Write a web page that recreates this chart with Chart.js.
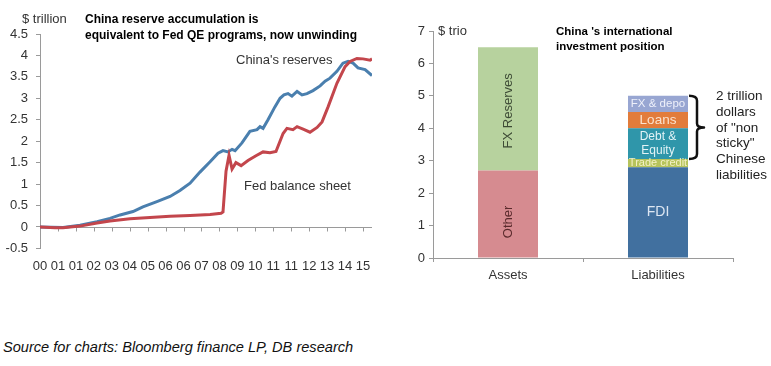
<!DOCTYPE html>
<html><head><meta charset="utf-8">
<script src="https://cdn.jsdelivr.net/npm/chart.js@4.4.1/dist/chart.umd.min.js"></script>
<style>
html,body{margin:0;padding:0;background:#fff;}
body{width:771px;height:366px;position:relative;overflow:hidden;font-family:"Liberation Sans",Arial,Helvetica,sans-serif;color:#222;}
.t{position:absolute;white-space:nowrap;}
#w1{position:absolute;left:0;top:0;width:390px;height:300px;}
#w2{position:absolute;left:390px;top:0;width:381px;height:300px;}
</style></head><body>
<div id="w1"><canvas id="c1" width="390" height="300"></canvas></div>
<div id="w2"><canvas id="c2" width="381" height="300"></canvas></div>

<div class="t" style="left:22px;top:11px;font-size:13px;line-height:16px;color:#333;">$ trillion</div>
<div class="t" style="left:85px;top:11px;font-size:12px;line-height:16px;font-weight:bold;color:#000;">China reserve accumulation is<br>equivalent to Fed QE programs, now unwinding</div>
<div class="t" style="left:236px;top:52px;font-size:13px;line-height:16px;color:#333;">China's reserves</div>
<div class="t" style="left:244px;top:178px;font-size:13px;line-height:16px;color:#333;">Fed balance sheet</div>

<div class="t" style="left:438px;top:23px;font-size:13px;line-height:16px;color:#333;">$ trio</div>
<div class="t" style="left:556px;top:24px;font-size:11.5px;line-height:15px;font-weight:bold;color:#000;">China 's international<br>investment position</div>
<div class="t" style="left:716px;top:88px;font-size:13.5px;line-height:15.8px;color:#222;">2 trillion<br>dollars<br>of "non<br>sticky"<br>Chinese<br>liabilities</div>

<div class="t" style="left:3px;top:338px;font-size:14.6px;line-height:18px;font-style:italic;color:#111;">Source for charts: Bloomberg finance LP, DB research</div>

<script>
// ---------- Left chart data ----------
const xTickLabels = ["00","01","01","02","03","04","05","06","06","07","08","09","10","11","11","12","13","14","15"];
const chinaDates = [2000.00,2001.07,2001.86,2002.65,2003.25,2003.72,2004.32,2004.78,2005.43,2006.04,2006.50,2006.97,2007.43,2007.90,2008.27,2008.50,2008.73,2008.92,2009.06,2009.38,2009.75,2010.08,2010.22,2010.36,2010.59,2010.91,2011.15,2011.33,2011.52,2011.70,2011.94,2012.17,2012.40,2012.68,2013.01,2013.24,2013.47,2013.79,2014.07,2014.31,2014.54,2014.77,2015.10,2015.42];
const chinaReserves = [0,-0.01,0.04,0.12,0.20,0.28,0.36,0.47,0.59,0.71,0.85,1.02,1.28,1.52,1.72,1.78,1.75,1.81,1.78,1.96,2.23,2.27,2.34,2.30,2.50,2.80,3.00,3.08,3.11,3.05,3.16,3.08,3.11,3.18,3.29,3.40,3.47,3.63,3.82,3.86,3.82,3.71,3.67,3.53];
const fedDates = [2000.00,2000.70,2001.07,2001.86,2002.65,2003.25,2004.18,2005.11,2006.04,2006.97,2007.90,2008.41,2008.50,2008.64,2008.78,2008.92,2009.10,2009.34,2009.66,2010.03,2010.36,2010.68,2010.96,2011.29,2011.47,2011.75,2011.94,2012.22,2012.54,2012.87,2013.10,2013.38,2013.79,2014.17,2014.40,2014.72,2015.00,2015.33,2015.42];
const fedBalance = [0,-0.02,-0.02,0.02,0.09,0.14,0.19,0.22,0.25,0.27,0.29,0.32,0.35,1.30,1.67,1.35,1.50,1.43,1.55,1.66,1.75,1.73,1.76,2.18,2.30,2.27,2.34,2.28,2.21,2.32,2.45,2.80,3.35,3.74,3.86,3.93,3.92,3.89,3.92];

// ---------- Right chart data ----------
const barCategories = ["Assets","Liabilities"];
const otherAssets  = [2.7, null];
const fxReserves   = [3.8, null];
const fdi          = [null, 2.8];
const tradeCredit  = [null, 0.25];
const debtEquity   = [null, 0.95];
const loans        = [null, 0.5];
const fxDepo       = [null, 0.5];

const F = "'Liberation Sans', Arial, sans-serif";
const AX = '#9a9a9a';

const zeroLine = {
  id:'zeroLine',
  beforeDatasetsDraw(chart){
    const {ctx, chartArea:a, scales:{x,y}} = chart;
    const y0 = Math.round(y.getPixelForValue(0)) + 0.5;
    ctx.save();
    ctx.strokeStyle = AX; ctx.lineWidth = 1;
    ctx.beginPath();
    ctx.moveTo(a.left, y0); ctx.lineTo(a.right, y0);
    x.ticks.forEach(t => {
      const px = Math.round(x.getPixelForValue(t.value)) + 0.5;
      ctx.moveTo(px, y0); ctx.lineTo(px, y0 + 4);
    });
    ctx.stroke();
    ctx.restore();
  }
};

new Chart(document.getElementById('c1'), {
  type:'line',
  data:{datasets:[
    {label:"China's reserves", data:chinaDates.map((d,i)=>({x:d,y:chinaReserves[i]})), borderColor:'#4a7fae', borderWidth:3, pointRadius:0, tension:0, order:1},
    {label:"Fed balance sheet", data:fedDates.map((d,i)=>({x:d,y:fedBalance[i]})), borderColor:'#c3464c', borderWidth:3, pointRadius:0, tension:0, order:0}
  ]},
  options:{
    responsive:false, animation:false, devicePixelRatio:1,
    layout:{padding:{top:34,right:18,left:0,bottom:0}},
    plugins:{legend:{display:false}, tooltip:{enabled:false}},
    scales:{
      x:{type:'linear', min:2000, max:2015.42,
        afterBuildTicks:s=>{ s.ticks = xTickLabels.map((_,i)=>({value:2000 + i*10/12})); },
        afterFit:s=>{ s.height = 51.6; },
        grid:{display:false, drawTicks:false}, border:{display:false},
        ticks:{autoSkip:false, maxRotation:0, minRotation:0, padding:10, color:'#333', font:{size:13, family:F}, callback:(v,i)=>xTickLabels[i]}
      },
      y:{min:-0.5, max:4.5,
        afterFit:s=>{ s.width = 40; },
        ticks:{stepSize:0.5, padding:8, color:'#333', font:{size:13, family:F}, callback:v=>String(Math.round(v*10)/10)},
        grid:{drawOnChartArea:false, drawTicks:true, tickLength:4, color:AX},
        border:{display:true, color:AX, width:1}
      }
    }
  },
  plugins:[zeroLine]
});

const segStyle = {
  'Other':        {color:'#5a2a2c', rotate:true, size:13, dy:8},
  'FX Reserves':  {color:'#3d4a35', rotate:true, size:13, dy:2},
  'FDI':          {color:'#dce6f2', size:14},
  'Trade credit': {color:'#f4f1c6', size:11},
  'Debt & Equity':{color:'#e2f3f6', size:12, lines:['Debt &','Equity']},
  'Loans':        {color:'#fbe2cd', size:13.5},
  'FX & depo':    {color:'#eef0fa', size:11.5}
};

const segLabels = {
  id:'segLabels',
  afterDatasetsDraw(chart){
    const {ctx} = chart;
    chart.data.datasets.forEach((ds, di) => {
      const st = segStyle[ds.label]; if (!st) return;
      const meta = chart.getDatasetMeta(di);
      meta.data.forEach((bar, i) => {
        if (ds.data[i] == null) return;
        const cy = (bar.y + bar.base)/2 + (st.dy||0);
        ctx.save();
        ctx.fillStyle = st.color;
        ctx.font = st.size + 'px ' + F;
        ctx.textAlign = 'center'; ctx.textBaseline = 'middle';
        if (st.rotate) {
          ctx.translate(bar.x, cy); ctx.rotate(-Math.PI/2);
          ctx.fillText(ds.label, 0, 0);
        } else {
          const lines = st.lines || [ds.label];
          const lh = st.size + 2;
          lines.forEach((ln, k) => {
            ctx.fillText(ln, bar.x, cy + (k - (lines.length-1)/2)*lh, bar.width);
          });
        }
        ctx.restore();
      });
    });
  }
};

const brace = {
  id:'brace',
  afterDatasetsDraw(chart){
    const {ctx, scales:{y}} = chart;
    const li = 1;
    const bar = chart.getDatasetMeta(2).data[li];
    const right = bar.x + bar.width/2;
    const topVal = fdi[li] + tradeCredit[li] + debtEquity[li] + loans[li] + fxDepo[li];
    const botVal = fdi[li] + tradeCredit[li];
    const yt = y.getPixelForValue(topVal), yb = y.getPixelForValue(botVal), ym = (yt+yb)/2;
    const x0 = right + 1, xv = right + 9, xt = right + 16;
    ctx.save();
    ctx.strokeStyle = '#111'; ctx.lineWidth = 2.5; ctx.lineJoin='round';
    ctx.beginPath();
    ctx.moveTo(x0, yt);
    ctx.quadraticCurveTo(xv, yt, xv, yt + 5);
    ctx.lineTo(xv, ym - 4);
    ctx.quadraticCurveTo(xv, ym, xt, ym);
    ctx.quadraticCurveTo(xv, ym, xv, ym + 4);
    ctx.lineTo(xv, yb - 5);
    ctx.quadraticCurveTo(xv, yb, x0, yb);
    ctx.stroke();
    ctx.restore();
  }
};

new Chart(document.getElementById('c2'), {
  type:'bar',
  data:{labels:barCategories, datasets:[
    {label:'Other', data:otherAssets, backgroundColor:'#d68b90'},
    {label:'FX Reserves', data:fxReserves, backgroundColor:'#b7d29e'},
    {label:'FDI', data:fdi, backgroundColor:'#41709f'},
    {label:'Trade credit', data:tradeCredit, backgroundColor:'#b6c35c'},
    {label:'Debt & Equity', data:debtEquity, backgroundColor:'#2f96aa'},
    {label:'Loans', data:loans, backgroundColor:'#e27c3b'},
    {label:'FX & depo', data:fxDepo, backgroundColor:'#98a6d2'}
  ]},
  options:{
    responsive:false, animation:false, devicePixelRatio:1,
    layout:{padding:{top:31,right:38,left:0,bottom:0}},
    plugins:{legend:{display:false}, tooltip:{enabled:false}},
    datasets:{bar:{categoryPercentage:1, barPercentage:0.4, borderWidth:0}},
    scales:{
      x:{stacked:true,
        afterFit:s=>{ s.height = 42; },
        grid:{offset:true, drawOnChartArea:false, drawTicks:true, tickLength:4, color:AX},
        border:{display:true, color:AX, width:1},
        ticks:{padding:6, color:'#333', font:{size:13, family:F}}
      },
      y:{stacked:true, min:0, max:7,
        afterFit:s=>{ s.width = 43; },
        ticks:{stepSize:1, padding:4, color:'#333', font:{size:13, family:F}},
        grid:{drawOnChartArea:false, drawTicks:true, tickLength:4, color:AX},
        border:{display:true, color:AX, width:1}
      }
    }
  },
  plugins:[segLabels, brace]
});
</script>
</body></html>
